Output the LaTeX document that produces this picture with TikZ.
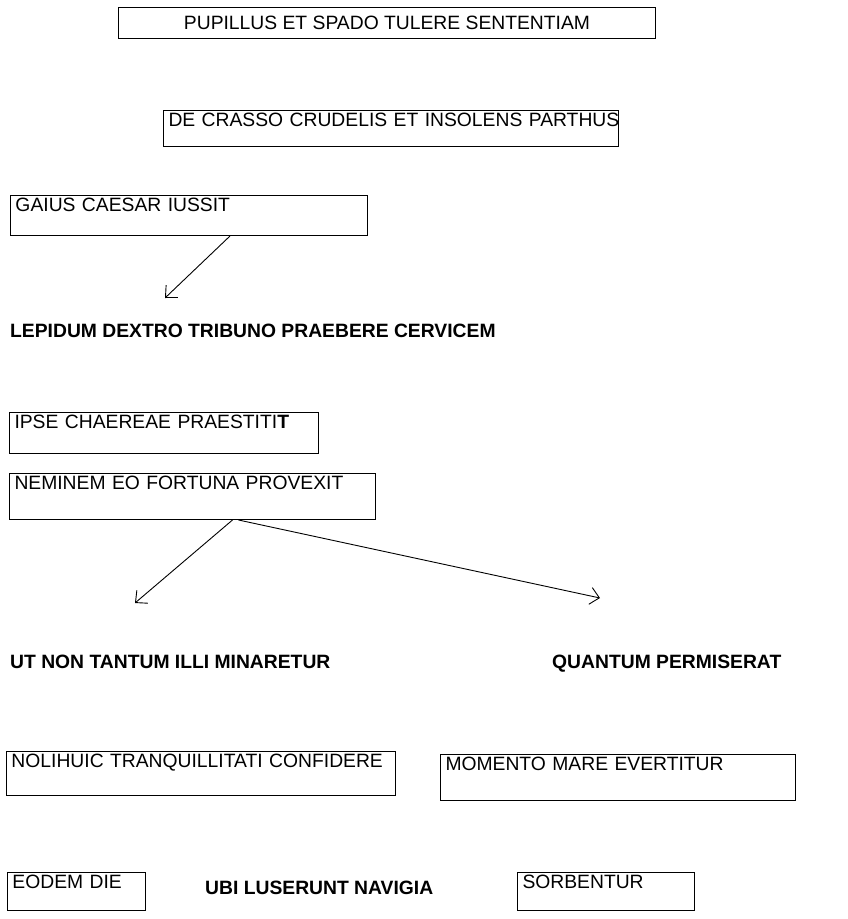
\documentclass[tikz,border=0pt]{standalone}
\usepackage{fontspec}
\setmainfont{Liberation Sans}
\usetikzlibrary{arrows.meta}
\begin{document}
\begin{tikzpicture}[x=1pt,y=-1pt,
  every node/.style={font=\fontsize{19.3}{22}\selectfont},
  tbox/.style={draw, line width=1pt, anchor=north west, inner xsep=5pt, inner ysep=0pt,
               text height=16pt, align=left},
  plain/.style={anchor=base west, inner sep=0pt, font=\fontsize{19.3}{22}\selectfont\bfseries},
  arr/.style={line width=0.9pt, -{Straight Barb[length=9pt,width=17pt]}}]
\useasboundingbox (0,0) rectangle (848,919);

\node[draw, line width=1pt, anchor=north west, minimum width=537pt, minimum height=31pt, inner sep=0pt]
  (pup) at (118,7) {PUPILLUS ET SPADO TULERE SENTENTIAM};
\node[tbox, text width=445pt, text depth=20pt] (crasso) at (163,110) {\mbox{DE CRASSO CRUDELIS ET INSOLENS PARTHUS}};
\node[tbox, text width=347pt, text depth=24pt] (gaius) at (10,195) {GAIUS CAESAR IUSSIT};
\node[plain] (lepidum) at (10,337) {LEPIDUM DEXTRO TRIBUNO PRAEBERE CERVICEM};
\node[tbox, text width=299pt, text depth=25pt] (ipse) at (9,412) {IPSE CHAEREAE PRAESTITI{\bfseries T}};
\node[tbox, text width=356pt, text depth=30pt] (nem) at (9,473) {NEMINEM EO FORTUNA PROVEXIT};
\node[plain] (utnon) at (10,668) {UT NON TANTUM ILLI MINARETUR};
\node[plain] (quant) at (552,668) {QUANTUM PERMISERAT};
\node[tbox, text width=379pt, text depth=28pt] (noli) at (6,751) {NOLIHUIC TRANQUILLITATI CONFIDERE};
\node[tbox, text width=345pt, text depth=30pt] (mom) at (440,754) {MOMENTO MARE EVERTITUR};
\node[tbox, text width=128pt, text depth=22pt] (eodem) at (7,872) {EODEM DIE};
\node[plain] (ubi) at (205,894) {UBI LUSERUNT NAVIGIA};
\node[tbox, text width=167pt, text depth=22pt] (sorb) at (517,872) {SORBENTUR};

% free arrow ends
\coordinate (g1) at (165,298);
\coordinate (n1) at (135,603);
\coordinate (n2) at (600,598);

\draw[arr] ([xshift=41pt]gaius.south) -- (g1);
\draw[arr] ([xshift=40pt]nem.south) -- (n1);
\draw[arr] ([xshift=46pt]nem.south) -- (n2);
\end{tikzpicture}
\end{document}
